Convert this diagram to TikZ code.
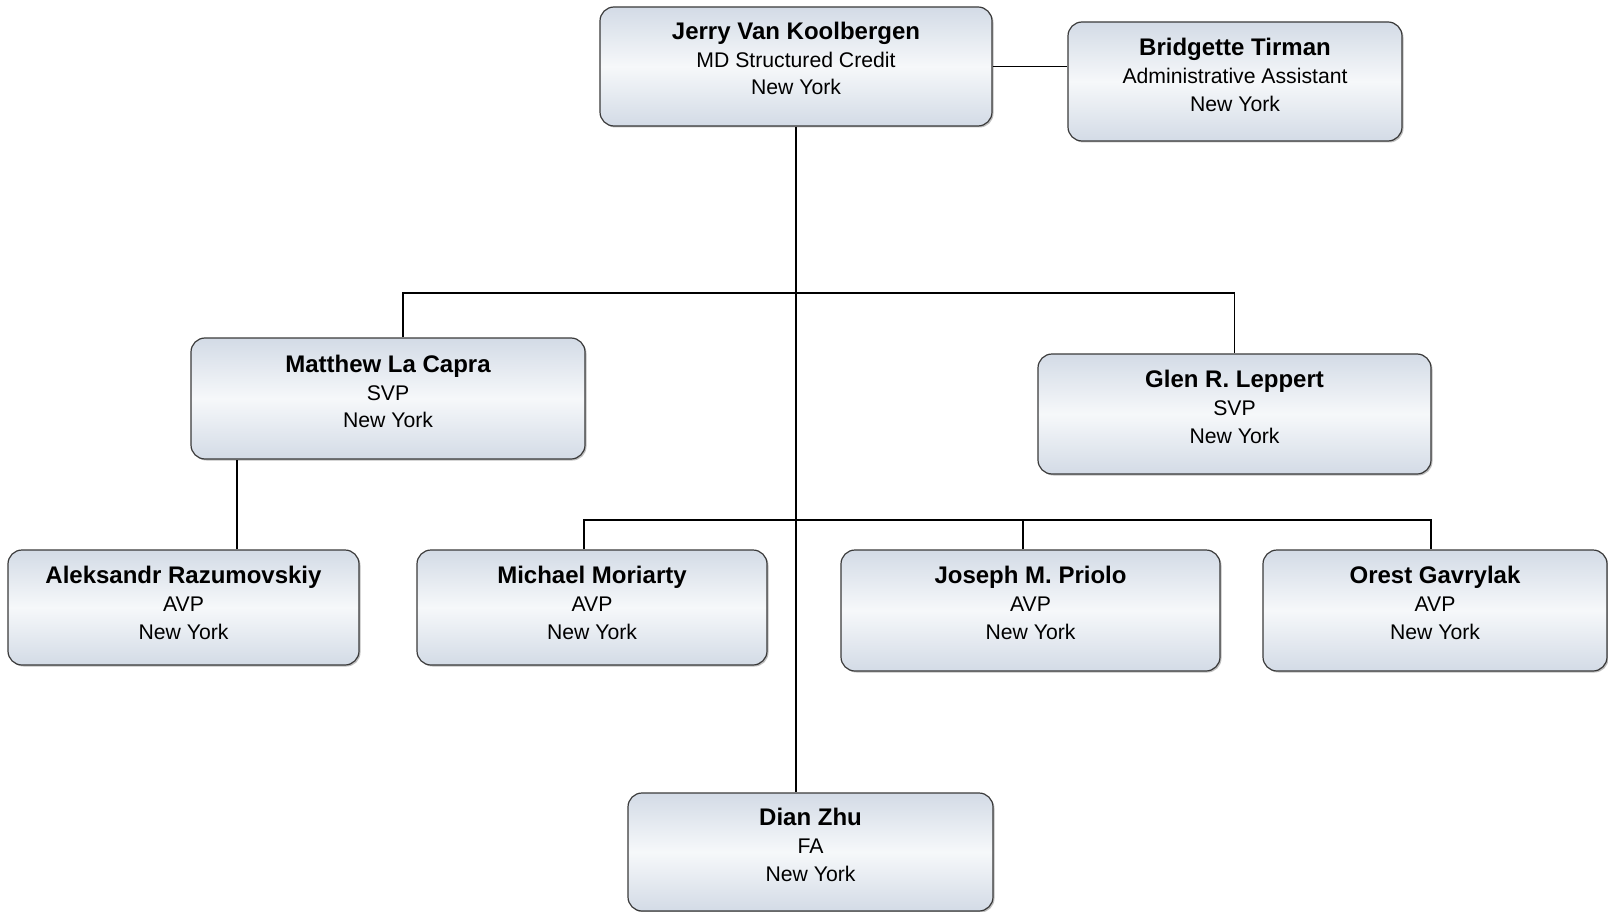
\documentclass[tikz,border=0pt]{standalone}
\usepackage{fontspec}
\setmainfont{Liberation Sans}
\usepackage{tikz}
\usetikzlibrary{shapes,shadows}

\definecolor{boxtop}{HTML}{D3DBE6}
\definecolor{boxmid}{HTML}{F6F8FA}
\definecolor{boxline}{HTML}{3A3A3A}

\tikzset{
    staff/.style={rectangle, rounded corners=14pt, draw=boxline, line width=1.2pt,
        top color=boxtop, bottom color=boxtop, middle color=boxmid,
        drop shadow={shadow xshift=1.5pt, shadow yshift=-1.5pt, fill=black, opacity=0.25},
        inner sep=0pt},
    who/.style={align=center, inner sep=0pt, font=\fontsize{21.2}{27.7}\selectfont},
    link/.style={line width=1.8pt, black}
}
\newcommand{\nm}[1]{{\fontsize{24}{27.7}\selectfont\bfseries #1}}

\begin{document}
\begin{tikzpicture}[x=1pt,y=-1pt]
        \useasboundingbox (0,0) rectangle (1608,912);

        % boxes:
        \node[staff, minimum width=392, minimum height=119] (jerry) at (796,66.5) {};
        \node[staff, minimum width=334, minimum height=119] (bridgette) at (1235,81.5) {};
        \node[staff, minimum width=394, minimum height=121] (matthew) at (388,398.5) {};
        \node[staff, minimum width=393, minimum height=120] (glen) at (1234.5,414) {};
        \node[staff, minimum width=351, minimum height=115] (aleks) at (183.5,607.5) {};
        \node[staff, minimum width=350, minimum height=115] (michael) at (592,607.5) {};
        \node[staff, minimum width=379, minimum height=121] (joseph) at (1030.5,610.5) {};
        \node[staff, minimum width=344, minimum height=121] (orest) at (1435,610.5) {};
        \node[staff, minimum width=365, minimum height=118] (dian) at (810.5,852) {};

        % texts
        \node[who] (jerryT) at ([yshift=8pt]jerry.center) {\nm{Jerry Van Koolbergen}\\MD Structured Credit\\New York};
        \node[who] (bridgetteT) at ([yshift=6.6pt]bridgette.center) {\nm{Bridgette Tirman}\\Administrative Assistant\\New York};
        \node[who] (matthewT) at ([yshift=6.8pt]matthew.center) {\nm{Matthew La Capra}\\SVP\\New York};
        \node[who] (glenT) at ([yshift=7pt]glen.center) {\nm{Glen R. Leppert}\\SVP\\New York};
        \node[who] (aleksT) at ([yshift=4.5pt]aleks.center) {\nm{Aleksandr Razumovskiy}\\AVP\\New York};
        \node[who] (michaelT) at ([yshift=4.5pt]michael.center) {\nm{Michael Moriarty}\\AVP\\New York};
        \node[who] (josephT) at ([yshift=7.5pt]joseph.center) {\nm{Joseph M. Priolo}\\AVP\\New York};
        \node[who] (orestT) at ([yshift=7.5pt]orest.center) {\nm{Orest Gavrylak}\\AVP\\New York};
        \node[who] (dianT) at ([yshift=7pt]dian.center) {\nm{Dian Zhu}\\FA\\New York};

        % lines
        \coordinate (upper) at (796,293);
        \coordinate (lower) at (796,520);
        \draw[link] (jerry.east) -- (jerry.east -| bridgette.west);
        \draw[link] (jerry.south) -- (jerry.south |- dian.north);
        \draw[link] ([xshift=15pt]matthew.north) |- (upper) -| (glen.north);
        \draw[link] ([xshift=53.5pt]aleks.north) -- ([xshift=53.5pt]aleks.north |- matthew.south);
        \draw[link] ([xshift=-8pt]michael.north) |- (lower) -| ([xshift=-4pt]orest.north);
        \draw[link] ([xshift=-7.5pt]joseph.north) -- ([xshift=-7.5pt]joseph.north |- lower);
\end{tikzpicture}
\end{document}
